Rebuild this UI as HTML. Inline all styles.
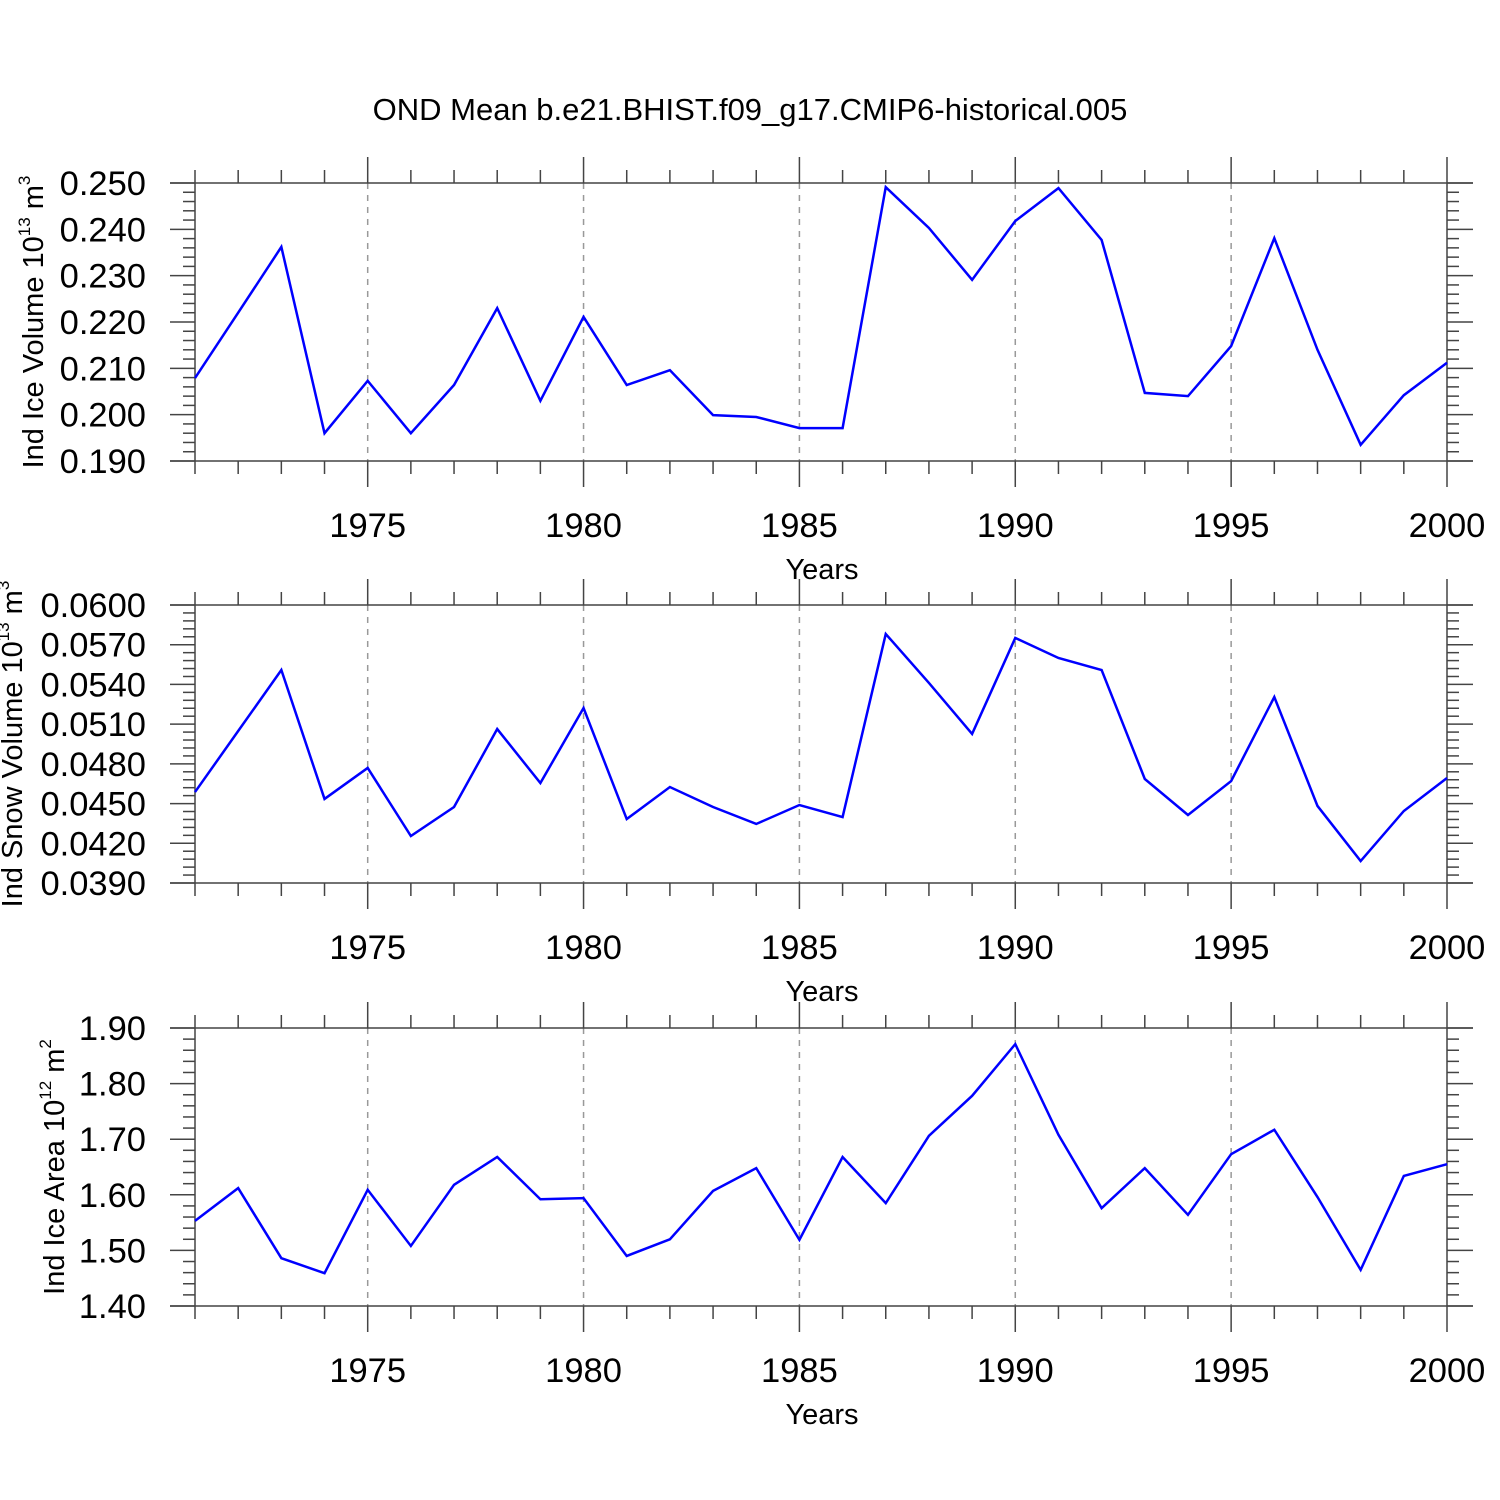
<!DOCTYPE html>
<html><head><meta charset="utf-8"><style>
body{margin:0;background:#fff}
svg{display:block;font-family:"Liberation Sans",sans-serif}
</style></head><body>
<svg id="chart" width="1500" height="1500">
<text x="750" y="120" font-size="31" text-anchor="middle">OND Mean b.e21.BHIST.f09_g17.CMIP6-historical.005</text>
</svg>
<script>
const years = [1971,1972,1973,1974,1975,1976,1977,1978,1979,1980,1981,1982,1983,1984,1985,1986,1987,1988,1989,1990,1991,1992,1993,1994,1995,1996,1997,1998,1999,2000];
const iceVolume = [0.2079,0.2220,0.2362,0.1960,0.2073,0.1960,0.2064,0.2230,0.2030,0.2211,0.2064,0.2096,0.1999,0.1995,0.1971,0.1971,0.2491,0.2403,0.2291,0.2418,0.2489,0.2377,0.2047,0.2040,0.2148,0.2381,0.2140,0.1935,0.2042,0.2112];
const snowVolume = [0.04587,0.05048,0.05509,0.04535,0.04769,0.04255,0.04474,0.05063,0.04655,0.05222,0.04383,0.04625,0.04474,0.04346,0.04489,0.04398,0.05781,0.05411,0.05026,0.05751,0.05600,0.05509,0.04686,0.04414,0.04670,0.05305,0.04482,0.04066,0.04444,0.04693];
const iceArea = [1.553,1.612,1.486,1.459,1.609,1.508,1.618,1.668,1.592,1.594,1.490,1.520,1.607,1.648,1.519,1.668,1.585,1.706,1.778,1.871,1.708,1.576,1.648,1.564,1.673,1.717,1.596,1.465,1.634,1.655];
const iceVolTicks = ["0.250","0.240","0.230","0.220","0.210","0.200","0.190"];
const snowTicks = ["0.0600","0.0570","0.0540","0.0510","0.0480","0.0450","0.0420","0.0390"];
const areaTicks = ["1.90","1.80","1.70","1.60","1.50","1.40"];
const yearTicks = [1975,1980,1985,1990,1995,2000];

const NS="http://www.w3.org/2000/svg";
const svg=document.getElementById('chart');
function mk(tag,attrs,parent){const e=document.createElementNS(NS,tag);for(const k in attrs)e.setAttribute(k,attrs[k]);(parent||svg).appendChild(e);return e;}
const X0=195,X1=1447,Y0=1971,Y1=2000;
const xs=y=>X0+(y-Y0)/(Y1-Y0)*(X1-X0);

function panel(top,bottom,vmin,vmax,major,nminor,ticks,data,titleParts,name){
  const g=mk('g',{});
  
  
  const ys=v=>bottom-(v-vmin)/(vmax-vmin)*(bottom-top);
  yearTicks.forEach(yr=>{if(yr<Y1){const l=mk('line',{x1:xs(yr),x2:xs(yr),y1:top,y2:bottom,stroke:'#999','stroke-width':1.5,'stroke-dasharray':'6,6'},g);
    
    }});
  const st={stroke:'#444','stroke-width':1.5};
  mk('line',Object.assign({x1:170,x2:1473,y1:top,y2:top},st),g);
  mk('line',Object.assign({x1:170,x2:1473,y1:bottom,y2:bottom},st),g);
  mk('line',Object.assign({x1:X0,x2:X0,y1:top,y2:bottom},st),g);
  mk('line',Object.assign({x1:X1,x2:X1,y1:top,y2:bottom},st),g);
  for(let yr=Y0;yr<=Y1;yr++){
    const maj=yr%5===0, len=maj?26:13, x=xs(yr);
    mk('line',Object.assign({x1:x,x2:x,y1:top-len,y2:top},st),g);
    mk('line',Object.assign({x1:x,x2:x,y1:bottom,y2:bottom+len},st),g);
  }
  yearTicks.forEach(yr=>{const t=mk('text',{x:xs(yr),y:bottom+76,'font-size':34.5,'text-anchor':'middle'},g);t.textContent=yr;
    
    });
  const steps=Math.round((vmax-vmin)/major);
  for(let i=0;i<steps;i++){
    for(let j=1;j<nminor;j++){
      const y=ys(vmin+(i+j/nminor)*major);
      mk('line',Object.assign({x1:X0-12,x2:X0,y1:y,y2:y},st),g);
      mk('line',Object.assign({x1:X1,x2:X1+12,y1:y,y2:y},st),g);
    }
  }
  ticks.forEach((lab,i)=>{const v=vmax-i*major;const y=ys(v);
    mk('line',Object.assign({x1:170,x2:X0,y1:y,y2:y},st),g);
    mk('line',Object.assign({x1:X1,x2:1473,y1:y,y2:y},st),g);
    const t=mk('text',{x:146,y:y+12,'font-size':34.5,'text-anchor':'end'},g);t.textContent=lab;
    
    });
  const pts=data.map((v,i)=>xs(years[i])+','+ys(v)).join(' ');
  const pl=mk('polyline',{points:pts,fill:'none',stroke:'#0000ff','stroke-width':2.5},g);
  
  
  const xt=mk('text',{x:822,y:bottom+118,'font-size':29,'text-anchor':'middle'},g);xt.textContent='Years';
  
  
  const cy=(top+bottom)/2;
  const yt=mk('text',{x:0,y:0,'font-size':29,'text-anchor':'middle',transform:`translate(${titleParts[3]},${cy}) rotate(-90)`},g);
  
  
  const a=mk('tspan',{},yt);a.textContent=titleParts[0];
  const b=mk('tspan',{'font-size':17,dy:-13},yt);b.textContent=titleParts[1];
  const c=mk('tspan',{dy:13},yt);c.textContent=' m';
  const d=mk('tspan',{'font-size':17,dy:-13},yt);d.textContent=titleParts[2];
}
panel(183,461,0.190,0.250,0.010,5,iceVolTicks,iceVolume,['Ind Ice Volume 10','13','3',43],'ice-volume');
panel(605,883,0.039,0.060,0.003,5,snowTicks,snowVolume,['Ind Snow Volume 10','13','3',22],'snow-volume');
panel(1028,1306,1.40,1.90,0.10,5,areaTicks,iceArea,['Ind Ice Area 10','12','2',64],'ice-area');
</script>
</body></html>
